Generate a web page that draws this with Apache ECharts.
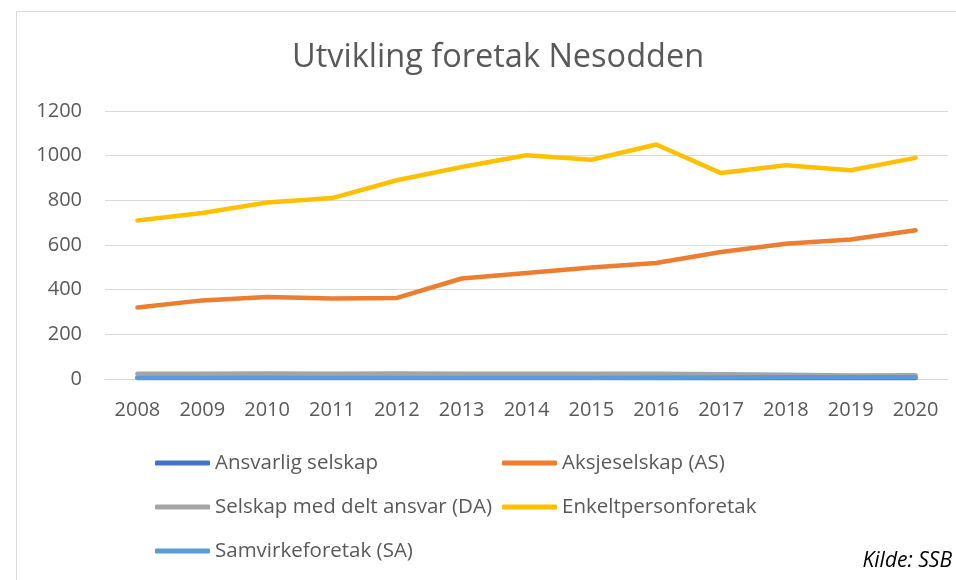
<!DOCTYPE html>
<html>
<head>
<meta charset="utf-8">
<script src="https://cdn.jsdelivr.net/npm/echarts@6/dist/echarts.min.js"></script>
<style>html,body{margin:0;padding:0;background:#fff}#c{width:956px;height:580px}</style>
</head>
<body>
<div id="c"></div>
<script>
const years = ['2008','2009','2010','2011','2012','2013','2014','2015','2016','2017','2018','2019','2020'];
const yTicks = [0, 200, 400, 600, 800, 1000, 1200];
const ansvarlig = [7, 7, 7, 6, 6, 6, 6, 6, 5, 5, 5, 5, 5];
const aksjeselskap = [320, 352, 367, 361, 363, 450, 475, 499, 519, 569, 606, 625, 666];
const delansvar = [23, 24, 25, 23, 25, 24, 24, 24, 23, 21, 19, 16, 17];
const enkeltperson = [710, 743, 790, 810, 890, 949, 1002, 982, 1050, 922, 957, 935, 990];
const samvirke = [4, 4, 4, 4, 4, 4, 4, 5, 6, 7, 8, 8, 8];
const names = ['Ansvarlig selskap', 'Aksjeselskap (AS)', 'Selskap med delt ansvar (DA)', 'Enkeltpersonforetak', 'Samvirkeforetak (SA)'];
const colors = ['#4472C4', '#ED7D31', '#A5A5A5', '#FFC000', '#5B9BD5'];
const values = [ansvarlig, aksjeselskap, delansvar, enkeltperson, samvirke];

const FONT = 'Open Sans';
const chart = echarts.init(document.getElementById('c'));
const legendBase = {
  orient: 'vertical',
  icon: 'roundRect',
  itemWidth: 55,
  itemHeight: 5,
  itemGap: 22,
  selectedMode: false,
  textStyle: { fontFamily: FONT, fontSize: 20.5, color: '#595959', lineHeight: 22 }
};
chart.setOption({
  animation: false,
  color: colors,
  title: {
    text: 'Utvikling foretak Nesodden',
    left: 287,
    top: 36,
    textStyle: { fontFamily: FONT, fontSize: 32.5, fontWeight: 'normal', color: '#595959' }
  },
  graphic: [
    { type: 'rect', shape: { x: 16.5, y: 11.5, width: 1000, height: 700 }, style: { fill: 'none', stroke: '#D9D9D9', lineWidth: 1 }, z: -10 },
    { type: 'text', right: 4, top: 551, style: { text: 'Kilde: SSB', font: 'italic 21px "Open Sans"', fill: '#000' } }
  ],
  legend: [
    Object.assign({}, legendBase, { left: 150, top: 447, data: [names[0], names[2], names[4]] }),
    Object.assign({}, legendBase, { left: 497, top: 447, data: [names[1], names[3]] })
  ],
  grid: { left: 105, right: 8, top: 111, bottom: 201, containLabel: false },
  xAxis: {
    type: 'category',
    data: years,
    boundaryGap: true,
    axisLine: { lineStyle: { color: '#D9D9D9', width: 1 } },
    axisTick: { show: false },
    axisLabel: { fontFamily: FONT, fontSize: 20, color: '#595959', margin: 21 }
  },
  yAxis: {
    type: 'value',
    min: yTicks[0],
    max: yTicks[yTicks.length - 1],
    interval: 200,
    axisLine: { show: false },
    axisTick: { show: false },
    splitLine: { lineStyle: { color: '#D9D9D9', width: 1 } },
    axisLabel: { fontFamily: FONT, fontSize: 20, color: '#595959', margin: 23, formatter: v => String(v) }
  },
  series: names.map((n, i) => ({
    name: n,
    type: 'line',
    data: values[i],
    symbol: 'none',
    lineStyle: { width: 4.5, color: colors[i], cap: 'round', join: 'round' },
    itemStyle: { color: colors[i] }
  }))
});
</script>
</body>
</html>
